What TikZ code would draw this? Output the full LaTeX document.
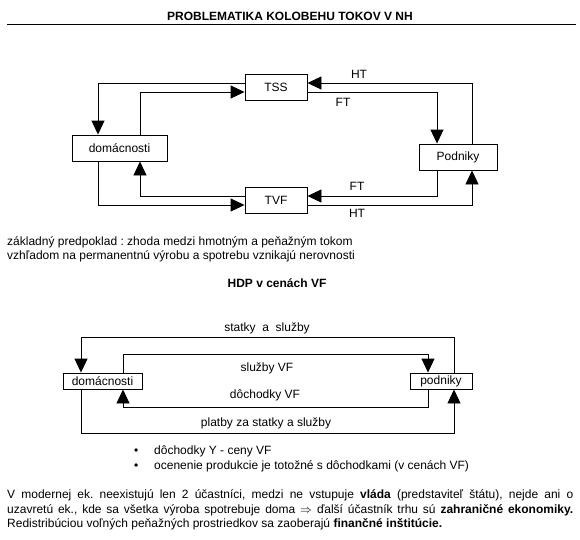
\documentclass[tikz,border=0pt]{standalone}
\usepackage{fontspec}
\setmainfont{Liberation Sans}
\frenchspacing
\usetikzlibrary{arrows.meta,positioning}

\begin{document}
\begin{tikzpicture}[x=1pt,y=-1pt,
    font=\fontsize{12}{14}\selectfont,
    box/.style={draw, line width=0.9pt, inner sep=0pt, minimum height=26pt},
    smallbox/.style={box, minimum height=16pt},
    flow/.style={line width=0.9pt, -{Triangle[width=13pt,length=14pt]}},
    txt/.style={anchor=west, inner sep=0pt}]
  \useasboundingbox (0,0) rectangle (580,539);

  % title
  \node[font=\fontsize{12}{14}\selectfont\bfseries] (title) at (290,16) {PROBLEMATIKA KOLOBEHU TOKOV V NH};
  \draw[line width=0.9pt] (7,24) -- (576,24);

  % upper circuit
  \node[box, minimum width=62pt] (tss) at (276,87) {TSS};
  \node[box, minimum width=62pt] (tvf) at (276,200) {TVF};
  \node[box, minimum width=95pt] (dom) at (119.5,148) {domácnosti};
  \node[box, minimum width=78pt] (pod) at (458,157) {Podniky};

  \draw[flow] ([yshift=4pt]tss.west) -| ([xshift=-21.5pt]dom.north);
  \draw[flow] ([xshift=20.5pt]dom.north) |- ([yshift=-5pt]tss.west);
  \draw[flow] ([xshift=-21.5pt]dom.south) |- ([yshift=-5pt]tvf.west);
  \draw[flow] ([yshift=4pt]tvf.west) -| ([xshift=20.5pt]dom.south);
  \draw[flow] ([xshift=14pt]pod.north) |- ([yshift=4pt]tss.east);
  \draw[flow] ([yshift=-5pt]tss.east) -| ([xshift=-21pt]pod.north);
  \draw[flow] ([xshift=-21pt]pod.south) |- ([yshift=4pt]tvf.east);
  \draw[flow] ([yshift=-5pt]tvf.east) -| ([xshift=14pt]pod.south);

  \node (ht1) at (359,74) {HT};
  \node (ft1) at (343,102) {FT};
  \node (ft2) at (357,186) {FT};
  \node (ht2) at (357,213) {HT};

  \node[txt] (note1) at (7,242) {základný predpoklad : zhoda medzi hmotným a peňažným tokom};
  \node[txt] (note2) at (7,256) {vzhľadom na permanentnú výrobu a spotrebu vznikajú nerovnosti};

  \node[font=\fontsize{12}{14}\selectfont\bfseries] (hdp) at (277,283) {HDP v cenách VF};

  % lower circuit
  \node[smallbox, minimum width=79pt] (dom2) at (102.5,381) {domácnosti};
  \node[smallbox, minimum width=62pt] (pod2) at (441,381) {podniky};

  \draw[flow] ([xshift=13pt]pod2.north) -- ++(0,-35) -| ([xshift=-21.5pt]dom2.north);
  \draw[flow] ([xshift=20.5pt]dom2.north) -- ++(0,-18) -| ([xshift=-13pt]pod2.north);
  \draw[flow] ([xshift=-13pt]pod2.south) -- ++(0,18) -| ([xshift=20.5pt]dom2.south);
  \draw[flow] ([xshift=-21.5pt]dom2.south) -- ++(0,44) -| ([xshift=13pt]pod2.south);

  \node (lab1) at (267,328) {statky\ \ a\ \ služby};
  \node (lab2) at (267,368) {služby VF};
  \node (lab3) at (265,395) {dôchodky VF};
  \node (lab4) at (266,423) {platby za statky a služby};

  \node[txt] (item1) at (134,451) {\makebox[20pt][l]{\textbullet}dôchodky Y - ceny VF};
  \node[txt] (item2) at (134,466) {\makebox[20pt][l]{\textbullet}ocenenie produkcie je totožné s dôchodkami (v cenách VF)};

  \node[txt] (par1) at (7,495) {\hbox to 566pt{V modernej ek. neexistujú len 2 účastníci, medzi ne vstupuje \textbf{vláda} (predstaviteľ štátu), nejde ani o}};
  \node[txt] (par2) at (7,510) {\hbox to 566pt{uzavretú ek., kde sa všetka výroba spotrebuje doma $\Rightarrow$ ďalší účastník trhu sú \textbf{zahraničné ekonomiky.}}};
  \node[txt] (par3) at (7,524) {Redistribúciou voľných peňažných prostriedkov sa zaoberajú \textbf{finančné inštitúcie.}};
\end{tikzpicture}
\end{document}
